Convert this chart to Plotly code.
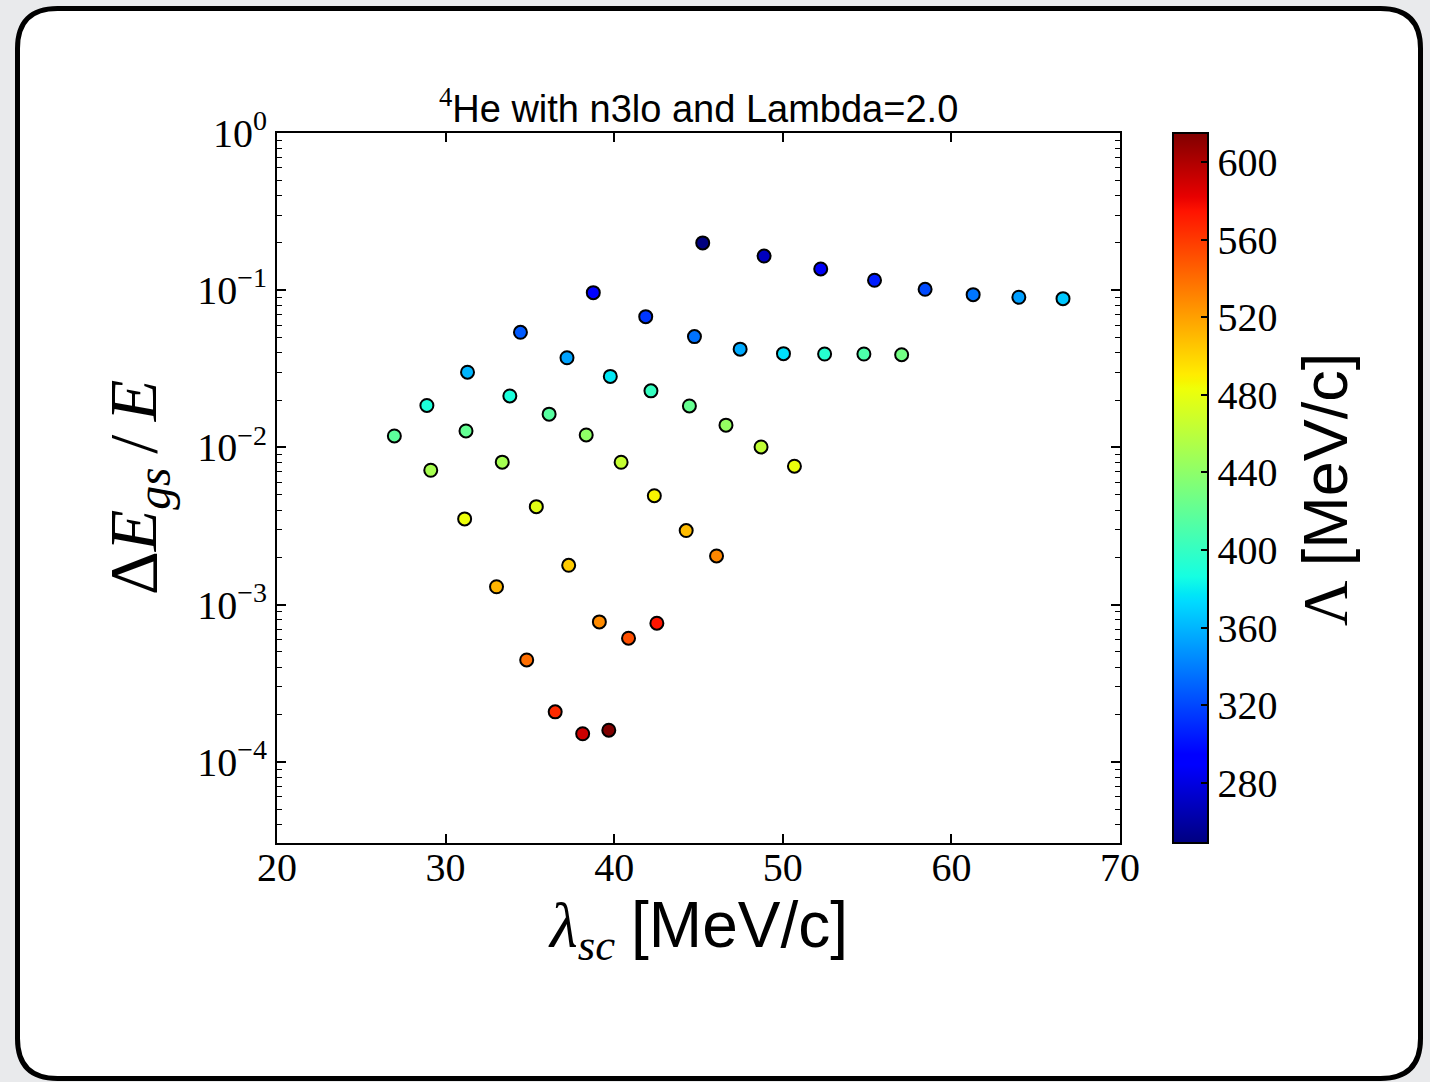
import plotly.graph_objects as go

# ---------------- data ----------------
# six model-space series, eight oscillator frequencies each
lam_sc_N4 = [45.25, 48.89, 52.25, 55.44, 58.44, 61.29, 64.00, 66.62]
dE_N4 = [0.200, 0.165, 0.1365, 0.1157, 0.1014, 0.0937, 0.0902, 0.0884]
Lam_N4 = [248.9, 268.9, 287.4, 304.9, 321.4, 337.1, 352.0, 366.4]

lam_sc_N6 = [38.76, 41.87, 44.76, 47.47, 50.04, 52.48, 54.81, 57.05]
dE_N6 = [0.0965, 0.0679, 0.0507, 0.0422, 0.0395, 0.0393, 0.0393, 0.0389]
Lam_N6 = [290.7, 314.0, 335.7, 356.0, 375.3, 393.6, 411.1, 427.9]

lam_sc_N8 = [34.44, 37.20, 39.77, 42.18, 44.46, 46.63, 48.71, 50.69]
dE_N8 = [0.0540, 0.0372, 0.0283, 0.0229, 0.01836, 0.01386, 0.01007, 0.00760]
Lam_N8 = [327.2, 353.4, 377.8, 400.7, 422.4, 443.0, 462.7, 481.6]

lam_sc_N10 = [31.30, 33.81, 36.14, 38.34, 40.41, 42.38, 44.27, 46.07]
dE_N10 = [0.0301, 0.02126, 0.01628, 0.01201, 0.00805, 0.00493, 0.00296, 0.00204]
Lam_N10 = [360.0, 388.8, 415.6, 440.9, 464.7, 487.4, 509.1, 529.8]

lam_sc_N12 = [28.89, 31.21, 33.36, 35.38, 37.30, 39.12, 40.85, 42.53]
dE_N12 = [0.01850, 0.01273, 0.00806, 0.00420, 0.00178, 0.000777, 0.000612, 0.000762]
Lam_N12 = [390.0, 421.3, 450.3, 477.7, 503.5, 528.1, 551.5, 574.1]

lam_sc_N14 = [26.96, 29.12, 31.13, 33.02, 34.81, 36.50, 38.13, 39.68]
dE_N14 = [0.01183, 0.00716, 0.00351, 0.00130, 0.000445, 0.000208, 0.000151, 0.000159]
Lam_N14 = [417.9, 451.4, 482.5, 511.8, 539.5, 565.8, 591.0, 615.1]

x_tick_vals = [20, 30, 40, 50, 60, 70]
x_tick_text = ["20", "30", "40", "50", "60", "70"]
y_tick_vals = [1e-4, 1e-3, 1e-2, 1e-1, 1]
y_tick_text = ["10<sup>−4</sup>", "10<sup>−3</sup>", "10<sup>−2</sup>", "10<sup>−1</sup>", "10<sup>0</sup>"]
cb_tick_vals = [280, 320, 360, 400, 440, 480, 520, 560, 600]
cb_tick_text = ["280", "320", "360", "400", "440", "480", "520", "560", "600"]

lam_sc = lam_sc_N4 + lam_sc_N6 + lam_sc_N8 + lam_sc_N10 + lam_sc_N12 + lam_sc_N14
dE = dE_N4 + dE_N6 + dE_N8 + dE_N10 + dE_N12 + dE_N14
Lam = Lam_N4 + Lam_N6 + Lam_N8 + Lam_N10 + Lam_N12 + Lam_N14

# matplotlib "jet"
jet = [
    [0.0, "rgb(0,0,128)"], [0.11, "rgb(0,0,255)"], [0.125, "rgb(0,0,255)"],
    [0.34, "rgb(0,219,255)"], [0.35, "rgb(0,230,247)"], [0.375, "rgb(21,255,226)"],
    [0.64, "rgb(239,255,8)"], [0.65, "rgb(247,245,0)"], [0.66, "rgb(255,236,0)"],
    [0.89, "rgb(255,19,0)"], [0.91, "rgb(232,0,0)"], [1.0, "rgb(128,0,0)"],
]

# ---------------- layout geometry (pixels) ----------------
W, H = 1430, 1082
L, R, T, B = 277, 1120, 133, 843


def pxx(x):
    return (x - L) / (R - L)


def pxy(y):
    return (B - y) / (B - T)


SERIF = "Liberation Serif"
SANS = "Liberation Sans"

fig = go.Figure()
fig.add_trace(go.Scatter(
    x=lam_sc, y=dE, mode="markers",
    marker=dict(
        size=13, color=Lam, colorscale=jet, cmin=min(Lam), cmax=max(Lam),
        line=dict(color="black", width=2), opacity=1,
        colorbar=dict(
            x=pxx(1173), xanchor="left", xpad=0, y=0.5, yanchor="middle",
            len=1, lenmode="fraction", ypad=0, thickness=35, thicknessmode="pixels",
            outlinewidth=2, outlinecolor="black",
            tickmode="array", tickvals=cb_tick_vals, ticktext=cb_tick_text,
            ticks="inside", ticklen=8, tickwidth=1.5, tickcolor="black",
            tickfont=dict(family=SERIF, size=40, color="black"),
        ),
    ),
    showlegend=False, hoverinfo="x+y",
))

# rounded frame
x0, y0, x1, y1, r = 17.5, 8.5, 1420.5, 1078.5, 40
pts = [
    ("M", (x0 + r, y0)), ("L", (x1 - r, y0)), ("Q", (x1, y0), (x1, y0 + r)),
    ("L", (x1, y1 - r)), ("Q", (x1, y1), (x1 - r, y1)), ("L", (x0 + r, y1)),
    ("Q", (x0, y1), (x0, y1 - r)), ("L", (x0, y0 + r)), ("Q", (x0, y0), (x0 + r, y0)),
]
path = ""
for seg in pts:
    cmd = seg[0]
    coords = " ".join(f"{pxx(p[0]):.5f},{pxy(p[1]):.5f}" for p in seg[1:])
    path += f"{cmd}{coords} "
path += "Z"

minor_vals = [m * 10 ** e for e in range(-5, 0) for m in range(2, 10) if m * 10 ** e > 3.1e-5]

fig.update_layout(
    width=W, height=H,
    margin=dict(l=L, r=W - R, t=T, b=H - B, pad=0),
    paper_bgcolor="#e9eaec", plot_bgcolor="white",
    shapes=[dict(type="path", xref="paper", yref="paper", path=path,
                 line=dict(color="black", width=5), fillcolor="white", layer="below")],
    xaxis=dict(
        range=[20, 70], tickmode="array", tickvals=x_tick_vals, ticktext=x_tick_text,
        ticks="inside", ticklen=9, tickwidth=1.5, tickcolor="black",
        showline=True, linecolor="black", linewidth=2, mirror="allticks",
        showgrid=False, zeroline=False, ticklabelstandoff=-12,
        tickfont=dict(family=SERIF, size=40, color="black"),
    ),
    yaxis=dict(
        type="log", range=[-4.516, 0], tickmode="array", tickvals=y_tick_vals, ticktext=y_tick_text,
        ticks="inside", ticklen=9, tickwidth=1.5, tickcolor="black",
        showline=True, linecolor="black", linewidth=2, mirror="allticks",
        showgrid=False, zeroline=False,
        tickfont=dict(family=SERIF, size=40, color="black"),
        minor=dict(tickmode="array", tickvals=minor_vals, ticks="inside", ticklen=5,
                   tickwidth=1.2, tickcolor="black", showgrid=False),
    ),
    annotations=[
        dict(text=f"<span style='font-family:{SERIF}'><sup>4</sup></span>He with n3lo and Lambda=2.0",
             xref="paper", yref="paper", x=0.5, y=pxy(106), xanchor="center", yanchor="middle",
             showarrow=False, font=dict(family=SANS, size=38, color="black")),
        dict(text=f"<i>λ</i><sub><i>sc</i></sub> <span style='font-family:{SANS}'>[MeV/c]</span>",
             xref="paper", yref="paper", x=pxx(698), y=pxy(929), xanchor="center", yanchor="middle",
             showarrow=False, font=dict(family=SERIF, size=64, color="black")),
        dict(text="Δ<i>E</i><sub><i>gs</i></sub>\u2009/\u2009<i>E</i>",
             xref="paper", yref="paper", x=pxx(137), y=0.5, xanchor="center", yanchor="middle",
             textangle=-90, showarrow=False, font=dict(family=SERIF, size=68, color="black")),
        dict(text=f"Λ <span style='font-family:{SANS}'>[MeV/c]</span>",
             xref="paper", yref="paper", x=pxx(1325), y=pxy(490), xanchor="center", yanchor="middle",
             textangle=-90, showarrow=False, font=dict(family=SERIF, size=63, color="black")),
    ],
)

fig.write_html("out.html")
